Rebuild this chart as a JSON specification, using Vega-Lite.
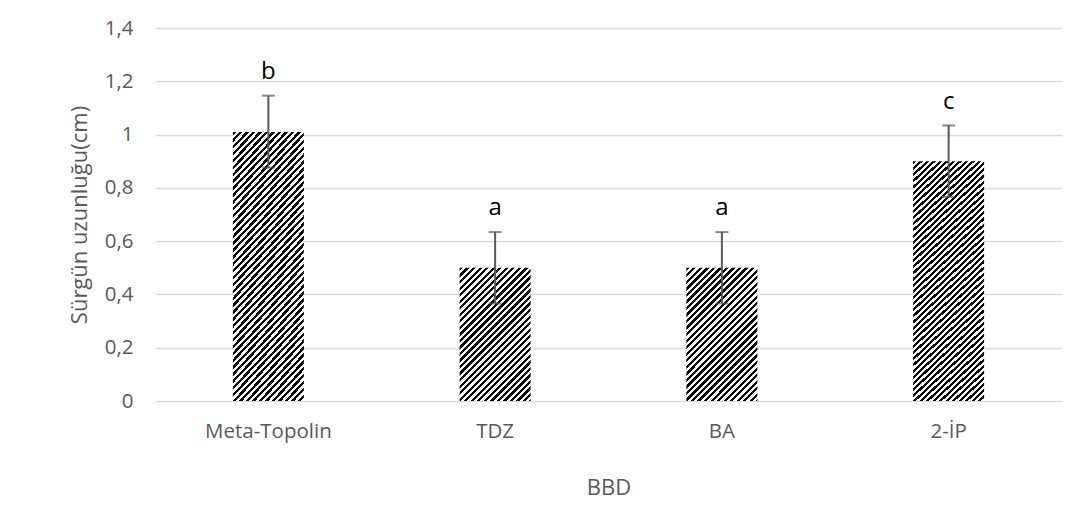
{
  "$schema": "https://vega.github.io/schema/vega-lite/v6.json",
  "autosize": "none",
  "width": 907,
  "height": 373,
  "padding": {"left": 155, "top": 28, "right": 29, "bottom": 112},
  "background": "white",
  "config": {"view": {"stroke": null}, "font": "Open Sans"},
  "data": {"values": [
    {"BBD": "Meta-Topolin", "mean": 1.01, "lo": 0.876, "hi": 1.146, "letter": "b"},
    {"BBD": "TDZ", "mean": 0.5, "lo": 0.366, "hi": 0.634, "letter": "a"},
    {"BBD": "BA", "mean": 0.5, "lo": 0.366, "hi": 0.634, "letter": "a"},
    {"BBD": "2-İP", "mean": 0.9, "lo": 0.766, "hi": 1.034, "letter": "c"}
  ]},
  "encoding": {
    "x": {
      "field": "BBD", "type": "nominal",
      "sort": ["Meta-Topolin", "TDZ", "BA", "2-İP"],
      "scale": {"paddingInner": 0.687, "paddingOuter": 0.3435},
      "axis": {
        "labelAngle": 0, "domain": false, "ticks": false,
        "labelColor": "#595959", "labelFontSize": 20.5, "labelPadding": 20,
        "title": "BBD", "titleColor": "#595959", "titleFontSize": 22,
        "titleFontWeight": "normal", "titlePadding": 36
      }
    }
  },
  "layer": [
    {
      "transform": [{"filter": "datum.BBD === 'Meta-Topolin' || datum.BBD === '2-İP'"}],
      "mark": {"type": "bar", "fill": {"gradient": "linear", "x1": 0, "y1": 0, "x2": 0.3317, "y2": 1.1868, "stops": [
{"offset":0,"color":"#000"},
{"offset":0.01,"color":"#000"},{"offset":0.01,"color":"#fff"},
{"offset":0.02,"color":"#fff"},{"offset":0.02,"color":"#000"},
{"offset":0.03,"color":"#000"},{"offset":0.03,"color":"#fff"},
{"offset":0.04,"color":"#fff"},{"offset":0.04,"color":"#000"},
{"offset":0.05,"color":"#000"},{"offset":0.05,"color":"#fff"},
{"offset":0.06,"color":"#fff"},{"offset":0.06,"color":"#000"},
{"offset":0.07,"color":"#000"},{"offset":0.07,"color":"#fff"},
{"offset":0.08,"color":"#fff"},{"offset":0.08,"color":"#000"},
{"offset":0.09,"color":"#000"},{"offset":0.09,"color":"#fff"},
{"offset":0.1,"color":"#fff"},{"offset":0.1,"color":"#000"},
{"offset":0.11,"color":"#000"},{"offset":0.11,"color":"#fff"},
{"offset":0.12,"color":"#fff"},{"offset":0.12,"color":"#000"},
{"offset":0.13,"color":"#000"},{"offset":0.13,"color":"#fff"},
{"offset":0.14,"color":"#fff"},{"offset":0.14,"color":"#000"},
{"offset":0.15,"color":"#000"},{"offset":0.15,"color":"#fff"},
{"offset":0.16,"color":"#fff"},{"offset":0.16,"color":"#000"},
{"offset":0.17,"color":"#000"},{"offset":0.17,"color":"#fff"},
{"offset":0.18,"color":"#fff"},{"offset":0.18,"color":"#000"},
{"offset":0.19,"color":"#000"},{"offset":0.19,"color":"#fff"},
{"offset":0.2,"color":"#fff"},{"offset":0.2,"color":"#000"},
{"offset":0.21,"color":"#000"},{"offset":0.21,"color":"#fff"},
{"offset":0.22,"color":"#fff"},{"offset":0.22,"color":"#000"},
{"offset":0.23,"color":"#000"},{"offset":0.23,"color":"#fff"},
{"offset":0.24,"color":"#fff"},{"offset":0.24,"color":"#000"},
{"offset":0.25,"color":"#000"},{"offset":0.25,"color":"#fff"},
{"offset":0.26,"color":"#fff"},{"offset":0.26,"color":"#000"},
{"offset":0.27,"color":"#000"},{"offset":0.27,"color":"#fff"},
{"offset":0.28,"color":"#fff"},{"offset":0.28,"color":"#000"},
{"offset":0.29,"color":"#000"},{"offset":0.29,"color":"#fff"},
{"offset":0.3,"color":"#fff"},{"offset":0.3,"color":"#000"},
{"offset":0.31,"color":"#000"},{"offset":0.31,"color":"#fff"},
{"offset":0.32,"color":"#fff"},{"offset":0.32,"color":"#000"},
{"offset":0.33,"color":"#000"},{"offset":0.33,"color":"#fff"},
{"offset":0.34,"color":"#fff"},{"offset":0.34,"color":"#000"},
{"offset":0.35,"color":"#000"},{"offset":0.35,"color":"#fff"},
{"offset":0.36,"color":"#fff"},{"offset":0.36,"color":"#000"},
{"offset":0.37,"color":"#000"},{"offset":0.37,"color":"#fff"},
{"offset":0.38,"color":"#fff"},{"offset":0.38,"color":"#000"},
{"offset":0.39,"color":"#000"},{"offset":0.39,"color":"#fff"},
{"offset":0.4,"color":"#fff"},{"offset":0.4,"color":"#000"},
{"offset":0.41,"color":"#000"},{"offset":0.41,"color":"#fff"},
{"offset":0.42,"color":"#fff"},{"offset":0.42,"color":"#000"},
{"offset":0.43,"color":"#000"},{"offset":0.43,"color":"#fff"},
{"offset":0.44,"color":"#fff"},{"offset":0.44,"color":"#000"},
{"offset":0.45,"color":"#000"},{"offset":0.45,"color":"#fff"},
{"offset":0.46,"color":"#fff"},{"offset":0.46,"color":"#000"},
{"offset":0.47,"color":"#000"},{"offset":0.47,"color":"#fff"},
{"offset":0.48,"color":"#fff"},{"offset":0.48,"color":"#000"},
{"offset":0.49,"color":"#000"},{"offset":0.49,"color":"#fff"},
{"offset":0.5,"color":"#fff"},{"offset":0.5,"color":"#000"},
{"offset":0.51,"color":"#000"},{"offset":0.51,"color":"#fff"},
{"offset":0.52,"color":"#fff"},{"offset":0.52,"color":"#000"},
{"offset":0.53,"color":"#000"},{"offset":0.53,"color":"#fff"},
{"offset":0.54,"color":"#fff"},{"offset":0.54,"color":"#000"},
{"offset":0.55,"color":"#000"},{"offset":0.55,"color":"#fff"},
{"offset":0.56,"color":"#fff"},{"offset":0.56,"color":"#000"},
{"offset":0.57,"color":"#000"},{"offset":0.57,"color":"#fff"},
{"offset":0.58,"color":"#fff"},{"offset":0.58,"color":"#000"},
{"offset":0.59,"color":"#000"},{"offset":0.59,"color":"#fff"},
{"offset":0.6,"color":"#fff"},{"offset":0.6,"color":"#000"},
{"offset":0.61,"color":"#000"},{"offset":0.61,"color":"#fff"},
{"offset":0.62,"color":"#fff"},{"offset":0.62,"color":"#000"},
{"offset":0.63,"color":"#000"},{"offset":0.63,"color":"#fff"},
{"offset":0.64,"color":"#fff"},{"offset":0.64,"color":"#000"},
{"offset":0.65,"color":"#000"},{"offset":0.65,"color":"#fff"},
{"offset":0.66,"color":"#fff"},{"offset":0.66,"color":"#000"},
{"offset":0.67,"color":"#000"},{"offset":0.67,"color":"#fff"},
{"offset":0.68,"color":"#fff"},{"offset":0.68,"color":"#000"},
{"offset":0.69,"color":"#000"},{"offset":0.69,"color":"#fff"},
{"offset":0.7,"color":"#fff"},{"offset":0.7,"color":"#000"},
{"offset":0.71,"color":"#000"},{"offset":0.71,"color":"#fff"},
{"offset":0.72,"color":"#fff"},{"offset":0.72,"color":"#000"},
{"offset":0.73,"color":"#000"},{"offset":0.73,"color":"#fff"},
{"offset":0.74,"color":"#fff"},{"offset":0.74,"color":"#000"},
{"offset":0.75,"color":"#000"},{"offset":0.75,"color":"#fff"},
{"offset":0.76,"color":"#fff"},{"offset":0.76,"color":"#000"},
{"offset":0.77,"color":"#000"},{"offset":0.77,"color":"#fff"},
{"offset":0.78,"color":"#fff"},{"offset":0.78,"color":"#000"},
{"offset":0.79,"color":"#000"},{"offset":0.79,"color":"#fff"},
{"offset":0.8,"color":"#fff"},{"offset":0.8,"color":"#000"},
{"offset":0.81,"color":"#000"},{"offset":0.81,"color":"#fff"},
{"offset":0.82,"color":"#fff"},{"offset":0.82,"color":"#000"},
{"offset":0.83,"color":"#000"},{"offset":0.83,"color":"#fff"},
{"offset":0.84,"color":"#fff"},{"offset":0.84,"color":"#000"},
{"offset":0.85,"color":"#000"},{"offset":0.85,"color":"#fff"},
{"offset":0.86,"color":"#fff"},{"offset":0.86,"color":"#000"},
{"offset":0.87,"color":"#000"},{"offset":0.87,"color":"#fff"},
{"offset":0.88,"color":"#fff"},{"offset":0.88,"color":"#000"},
{"offset":0.89,"color":"#000"},{"offset":0.89,"color":"#fff"},
{"offset":0.9,"color":"#fff"},{"offset":0.9,"color":"#000"},
{"offset":0.91,"color":"#000"},{"offset":0.91,"color":"#fff"},
{"offset":0.92,"color":"#fff"},{"offset":0.92,"color":"#000"},
{"offset":0.93,"color":"#000"},{"offset":0.93,"color":"#fff"},
{"offset":0.94,"color":"#fff"},{"offset":0.94,"color":"#000"},
{"offset":0.95,"color":"#000"},{"offset":0.95,"color":"#fff"},
{"offset":0.96,"color":"#fff"},{"offset":0.96,"color":"#000"},
{"offset":0.97,"color":"#000"},{"offset":0.97,"color":"#fff"},
{"offset":0.98,"color":"#fff"},{"offset":0.98,"color":"#000"},
{"offset":0.99,"color":"#000"},{"offset":0.99,"color":"#fff"},
{"offset":1,"color":"#fff"}
      ]}},
      "encoding": {"y": {"field": "mean", "type": "quantitative"}}
    },
    {
      "transform": [{"filter": "datum.BBD === 'TDZ' || datum.BBD === 'BA'"}],
      "mark": {"type": "bar", "fill": {"gradient": "linear", "x1": 0, "y1": 0, "x2": 0.6364, "y2": 1.1938, "stops": [
{"offset":0,"color":"#000"},
{"offset":0.016,"color":"#000"},{"offset":0.016,"color":"#fff"},
{"offset":0.032,"color":"#fff"},{"offset":0.032,"color":"#000"},
{"offset":0.048,"color":"#000"},{"offset":0.048,"color":"#fff"},
{"offset":0.064,"color":"#fff"},{"offset":0.064,"color":"#000"},
{"offset":0.08,"color":"#000"},{"offset":0.08,"color":"#fff"},
{"offset":0.096,"color":"#fff"},{"offset":0.096,"color":"#000"},
{"offset":0.112,"color":"#000"},{"offset":0.112,"color":"#fff"},
{"offset":0.128,"color":"#fff"},{"offset":0.128,"color":"#000"},
{"offset":0.144,"color":"#000"},{"offset":0.144,"color":"#fff"},
{"offset":0.16,"color":"#fff"},{"offset":0.16,"color":"#000"},
{"offset":0.176,"color":"#000"},{"offset":0.176,"color":"#fff"},
{"offset":0.192,"color":"#fff"},{"offset":0.192,"color":"#000"},
{"offset":0.208,"color":"#000"},{"offset":0.208,"color":"#fff"},
{"offset":0.224,"color":"#fff"},{"offset":0.224,"color":"#000"},
{"offset":0.24,"color":"#000"},{"offset":0.24,"color":"#fff"},
{"offset":0.256,"color":"#fff"},{"offset":0.256,"color":"#000"},
{"offset":0.272,"color":"#000"},{"offset":0.272,"color":"#fff"},
{"offset":0.288,"color":"#fff"},{"offset":0.288,"color":"#000"},
{"offset":0.304,"color":"#000"},{"offset":0.304,"color":"#fff"},
{"offset":0.32,"color":"#fff"},{"offset":0.32,"color":"#000"},
{"offset":0.336,"color":"#000"},{"offset":0.336,"color":"#fff"},
{"offset":0.352,"color":"#fff"},{"offset":0.352,"color":"#000"},
{"offset":0.368,"color":"#000"},{"offset":0.368,"color":"#fff"},
{"offset":0.384,"color":"#fff"},{"offset":0.384,"color":"#000"},
{"offset":0.4,"color":"#000"},{"offset":0.4,"color":"#fff"},
{"offset":0.416,"color":"#fff"},{"offset":0.416,"color":"#000"},
{"offset":0.432,"color":"#000"},{"offset":0.432,"color":"#fff"},
{"offset":0.448,"color":"#fff"},{"offset":0.448,"color":"#000"},
{"offset":0.464,"color":"#000"},{"offset":0.464,"color":"#fff"},
{"offset":0.48,"color":"#fff"},{"offset":0.48,"color":"#000"},
{"offset":0.496,"color":"#000"},{"offset":0.496,"color":"#fff"},
{"offset":0.512,"color":"#fff"},{"offset":0.512,"color":"#000"},
{"offset":0.528,"color":"#000"},{"offset":0.528,"color":"#fff"},
{"offset":0.544,"color":"#fff"},{"offset":0.544,"color":"#000"},
{"offset":0.56,"color":"#000"},{"offset":0.56,"color":"#fff"},
{"offset":0.576,"color":"#fff"},{"offset":0.576,"color":"#000"},
{"offset":0.592,"color":"#000"},{"offset":0.592,"color":"#fff"},
{"offset":0.608,"color":"#fff"},{"offset":0.608,"color":"#000"},
{"offset":0.624,"color":"#000"},{"offset":0.624,"color":"#fff"},
{"offset":0.64,"color":"#fff"},{"offset":0.64,"color":"#000"},
{"offset":0.656,"color":"#000"},{"offset":0.656,"color":"#fff"},
{"offset":0.672,"color":"#fff"},{"offset":0.672,"color":"#000"},
{"offset":0.688,"color":"#000"},{"offset":0.688,"color":"#fff"},
{"offset":0.704,"color":"#fff"},{"offset":0.704,"color":"#000"},
{"offset":0.72,"color":"#000"},{"offset":0.72,"color":"#fff"},
{"offset":0.736,"color":"#fff"},{"offset":0.736,"color":"#000"},
{"offset":0.752,"color":"#000"},{"offset":0.752,"color":"#fff"},
{"offset":0.768,"color":"#fff"},{"offset":0.768,"color":"#000"},
{"offset":0.784,"color":"#000"},{"offset":0.784,"color":"#fff"},
{"offset":0.8,"color":"#fff"},{"offset":0.8,"color":"#000"},
{"offset":0.816,"color":"#000"},{"offset":0.816,"color":"#fff"},
{"offset":0.832,"color":"#fff"},{"offset":0.832,"color":"#000"},
{"offset":0.848,"color":"#000"},{"offset":0.848,"color":"#fff"},
{"offset":0.864,"color":"#fff"},{"offset":0.864,"color":"#000"},
{"offset":0.88,"color":"#000"},{"offset":0.88,"color":"#fff"},
{"offset":0.896,"color":"#fff"},{"offset":0.896,"color":"#000"},
{"offset":0.912,"color":"#000"},{"offset":0.912,"color":"#fff"},
{"offset":0.928,"color":"#fff"},{"offset":0.928,"color":"#000"},
{"offset":0.944,"color":"#000"},{"offset":0.944,"color":"#fff"},
{"offset":0.96,"color":"#fff"},{"offset":0.96,"color":"#000"},
{"offset":0.976,"color":"#000"},{"offset":0.976,"color":"#fff"},
{"offset":0.992,"color":"#fff"},{"offset":0.992,"color":"#000"},
{"offset":1,"color":"#000"}
      ]}},
      "encoding": {"y": {"field": "mean", "type": "quantitative"}}
    },
    {
      "mark": {"type": "rule", "color": "#595959", "strokeWidth": 2},
      "encoding": {
        "y": {"field": "lo", "type": "quantitative"},
        "y2": {"field": "hi"}
      }
    },
    {
      "mark": {"type": "tick", "color": "#595959", "size": 13, "thickness": 2, "orient": "horizontal"},
      "encoding": {"y": {"field": "hi", "type": "quantitative"}}
    },
    {
      "mark": {"type": "tick", "color": "#595959", "size": 13, "thickness": 2, "orient": "horizontal"},
      "encoding": {"y": {"field": "lo", "type": "quantitative"}}
    },
    {
      "mark": {"type": "text", "color": "#000", "fontSize": 24, "baseline": "alphabetic", "dy": -17, "font": "Open Sans"},
      "encoding": {
        "y": {"field": "hi", "type": "quantitative"},
        "text": {"field": "letter"}
      }
    },
    {
      "mark": {"type": "rule", "opacity": 0},
      "encoding": {
        "y": {
          "field": "mean", "type": "quantitative",
          "scale": {"domain": [0, 1.4], "nice": false},
          "axis": {
            "values": [0, 0.2, 0.4, 0.6, 0.8, 1, 1.2, 1.4],
            "labelExpr": "replace(format(datum.value, '.1~f'), '.', ',')",
            "domain": false, "ticks": false,
            "grid": true, "gridColor": "#d9d9d9", "gridWidth": 1.3,
            "labelColor": "#595959", "labelFontSize": 20.5, "labelPadding": 22,
            "title": "Sürgün uzunluğu(cm)", "titleColor": "#595959",
            "titleFontSize": 22, "titleFontWeight": "normal", "titlePadding": 13
          }
        }
      }
    }
  ],
  "resolve": {"scale": {"y": "shared"}}
}
